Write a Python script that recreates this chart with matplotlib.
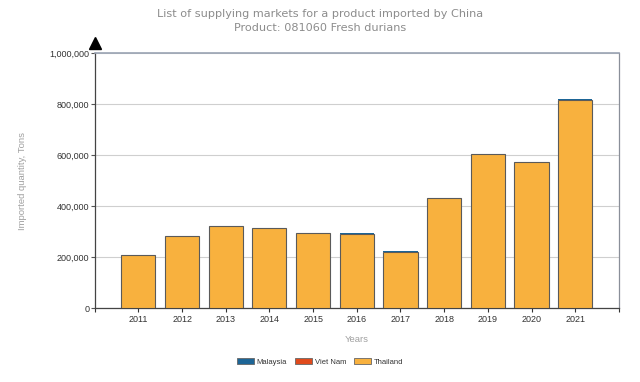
import matplotlib
matplotlib.use("Agg")
import matplotlib.pyplot as plt
from matplotlib.ticker import FuncFormatter, MultipleLocator
from matplotlib.patches import Patch
import numpy as np

years = [2011, 2012, 2013, 2014, 2015, 2016, 2017, 2018, 2019, 2020, 2021]
thailand = [207000, 284000, 320000, 315000, 296000, 289000, 221000, 431000, 604000, 575000, 818000]
viet_nam = [0, 0, 0, 0, 0, 0, 0, 0, 0, 0, 0]
malaysia = [0, 0, 0, 0, 0, 3500, 2500, 0, 0, 0, 2500]

series_names = ["Malaysia", "Viet Nam", "Thailand"]
colors = {"Malaysia": "#1d6596", "Viet Nam": "#e04a1c", "Thailand": "#f8b13e"}

fig = plt.figure(figsize=(6.4, 3.82), dpi=100)
ax = fig.add_axes([0.148, 0.1937, 0.819, 0.667])

x = np.array(years)
w = 0.78
ec = "#5a5a5a"
ax.bar(x, thailand, width=w, color=colors["Thailand"], edgecolor=ec, linewidth=0.8, zorder=3)
bottom2 = np.array(thailand)
ax.bar(x, viet_nam, width=w, bottom=bottom2, color=colors["Viet Nam"], edgecolor="none", linewidth=0, zorder=3)
bottom3 = bottom2 + np.array(viet_nam)
ax.bar(x, malaysia, width=w, bottom=bottom3, color=colors["Malaysia"], edgecolor="none", linewidth=0, zorder=4)

ax.set_xlim(2010, 2022)
ax.set_ylim(0, 1000000)
ax.yaxis.set_major_locator(MultipleLocator(200000))
ax.yaxis.set_major_formatter(FuncFormatter(lambda v, p: f"{int(v):,}"))
ax.set_xticks(years)
ax.set_xticks([2010, 2022], minor=True)
ax.tick_params(axis="x", which="both", length=3, width=0.8, color="#333333", pad=2,
               labelsize=6.5, labelcolor="#333333")
ax.tick_params(axis="y", length=3, width=0.8, color="#555555", pad=1,
               labelsize=6.5, labelcolor="#333333")
for lab in ax.get_xticklabels() + ax.get_yticklabels():
    lab.set_family("Liberation Sans")

ax.grid(axis="y", color="#cfcfcf", linewidth=0.8, zorder=0)
ax.set_axisbelow(True)

ax.spines["left"].set_color("#444444")
ax.spines["bottom"].set_color("#444444")
ax.spines["top"].set_color("#9aa3b3")
ax.spines["right"].set_color("#8a8f99")
ax.spines["top"].set_linewidth(1.2)
for s in ["left", "bottom", "right"]:
    ax.spines[s].set_linewidth(0.9)

# arrow on the y axis
ax.plot([0], [1.04], marker="^", markersize=9, color="black",
        transform=ax.transAxes, clip_on=False, zorder=6)

ax.set_ylabel("Imported quantity, Tons", fontsize=6.8, color="#a0a0a0",
              family="Liberation Sans")
ax.yaxis.set_label_coords(-0.13, 0.5)
ax.set_xlabel("Years", fontsize=6.8, color="#a0a0a0", family="Liberation Sans", labelpad=8)

fig.text(0.5, 0.963, "List of supplying markets for a product imported by China",
         ha="center", va="center", fontsize=8.1, color="#8c8c8c")
fig.text(0.5, 0.926, "Product: 081060 Fresh durians",
         ha="center", va="center", fontsize=8.1, color="#8c8c8c")

handles = [Patch(facecolor=colors[n], edgecolor="#666666", linewidth=0.6, label=n) for n in series_names]
leg = fig.legend(handles=handles, loc="center", bbox_to_anchor=(0.5, 0.052), ncol=3,
                 frameon=False, fontsize=5.5, handlelength=2.2, handleheight=0.8,
                 handletextpad=0.4, columnspacing=1.0)
for t in leg.get_texts():
    t.set_family("Liberation Sans")
    t.set_color("#333333")

fig.savefig("out.png", dpi=100)
